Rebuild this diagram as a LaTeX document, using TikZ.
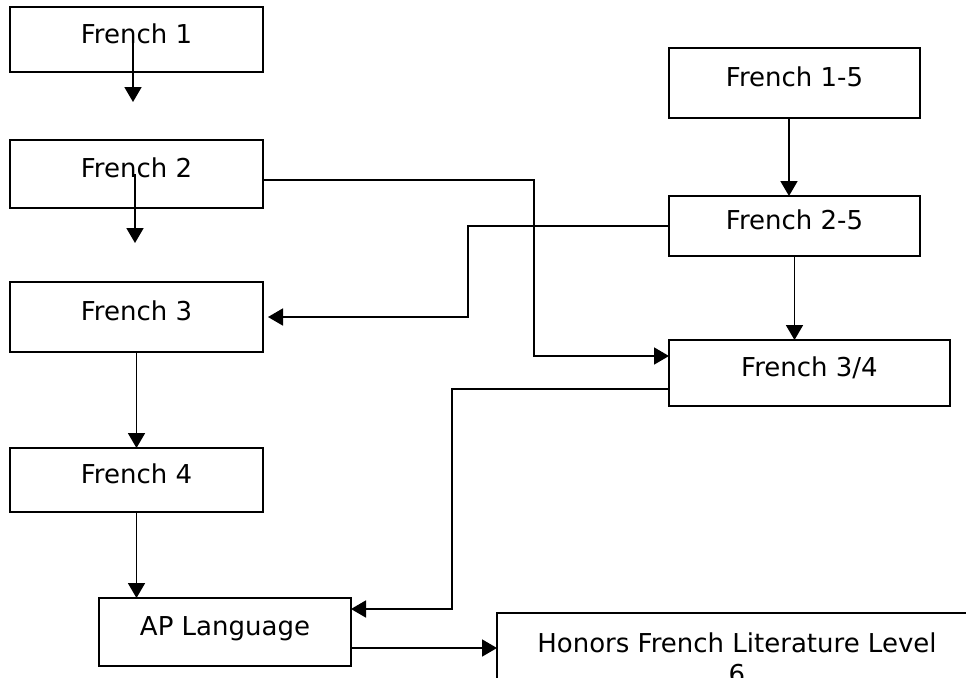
\documentclass[tikz,border=0pt]{standalone}
\usepackage{fontspec}
\setmainfont{DejaVu Sans}
\usetikzlibrary{arrows.meta,positioning,shapes}

\begin{document}
\begin{tikzpicture}[node distance=34pt]
        \tikzstyle{course}=[draw, rectangle, line width=1pt, outer sep=0pt, minimum width=126.5pt, minimum height=33pt, text height=9.5pt, text depth=6pt, text centered, font=\fontsize{13pt}{15.5pt}\selectfont]
        \tikzstyle{course_wide}=[draw, rectangle, line width=1pt, outer sep=0pt, minimum width=240pt, inner ysep=10pt, align=center, font=\fontsize{13pt}{15.5pt}\selectfont]
        \tikzstyle{link}=[line width=0.9pt, -{Triangle[length=7.5pt,width=8.5pt]}]

        \useasboundingbox (0,0) rectangle (483pt,-338.5pt);
	\clip (0,0) rectangle (483pt,-338.5pt);

        \node[course, minimum height=32.5pt, anchor=north west] (f1) at (5pt,-3.5pt) {French 1};
        \node[course, minimum height=34pt] (f2) [below=of f1] {French 2};
        \node[course, minimum height=35pt] (f3) [below=37pt of f2] {French 3};
        \node[course, minimum height=32pt] (f4) [below=48pt of f3] {French 4};
        \node[course, minimum width=126pt, minimum height=34pt] (ap) [below=43pt of f4, xshift=44.25pt] {AP Language};
        \node[course_wide] (hon) [right=73pt of ap.north east, anchor=north west, yshift=-7.5pt] {Honors French Literature Level\\6};

        \node[course, minimum width=125.5pt, minimum height=35pt, anchor=north west] (f15) at (334.5pt,-24pt) {French 1-5};
        \node[course, minimum width=125.5pt, minimum height=30pt] (f25) [below=39pt of f15] {French 2-5};
        \node[course, minimum width=140.5pt] (f34) [below=42pt of f25.south west, anchor=north west] {French 3/4};

        \coordinate[below=15pt of f1.south, xshift=-1.75pt] (f1end);
        \coordinate[below=17.5pt of f2.south, xshift=-0.75pt] (f2end);
        \coordinate (apout) at ([yshift=-8pt]ap.east);

        \draw[link] (f1end |- f1.center) -- (f1end);
        \draw[link] (f2end |- f2.center) -- (f2end);
        \draw[link] (f3) -- (f4);
        \draw[link] (f4.south) -- (f4.south |- ap.north);
        \draw[link] ([xshift=-2.75pt]f15.south) -- ([xshift=-2.75pt]f25.north);
        \draw[link] (f25.south) -- (f25.south |- f34.north);
        \draw[link] (f25.west) -- ++(-100.5pt,0) |- ([xshift=2.5pt]f3.east);
        \draw[link] ([yshift=-3pt]f2.east) -- ++(135.5pt,0) |- ([yshift=8.5pt]f34.west);
        \draw[link] ([yshift=-8pt]f34.west) -- ++(-108.5pt,0) |- ([yshift=11.5pt]ap.east);
        \draw[link] (apout) -- (apout -| hon.west);
\end{tikzpicture}
\end{document}
